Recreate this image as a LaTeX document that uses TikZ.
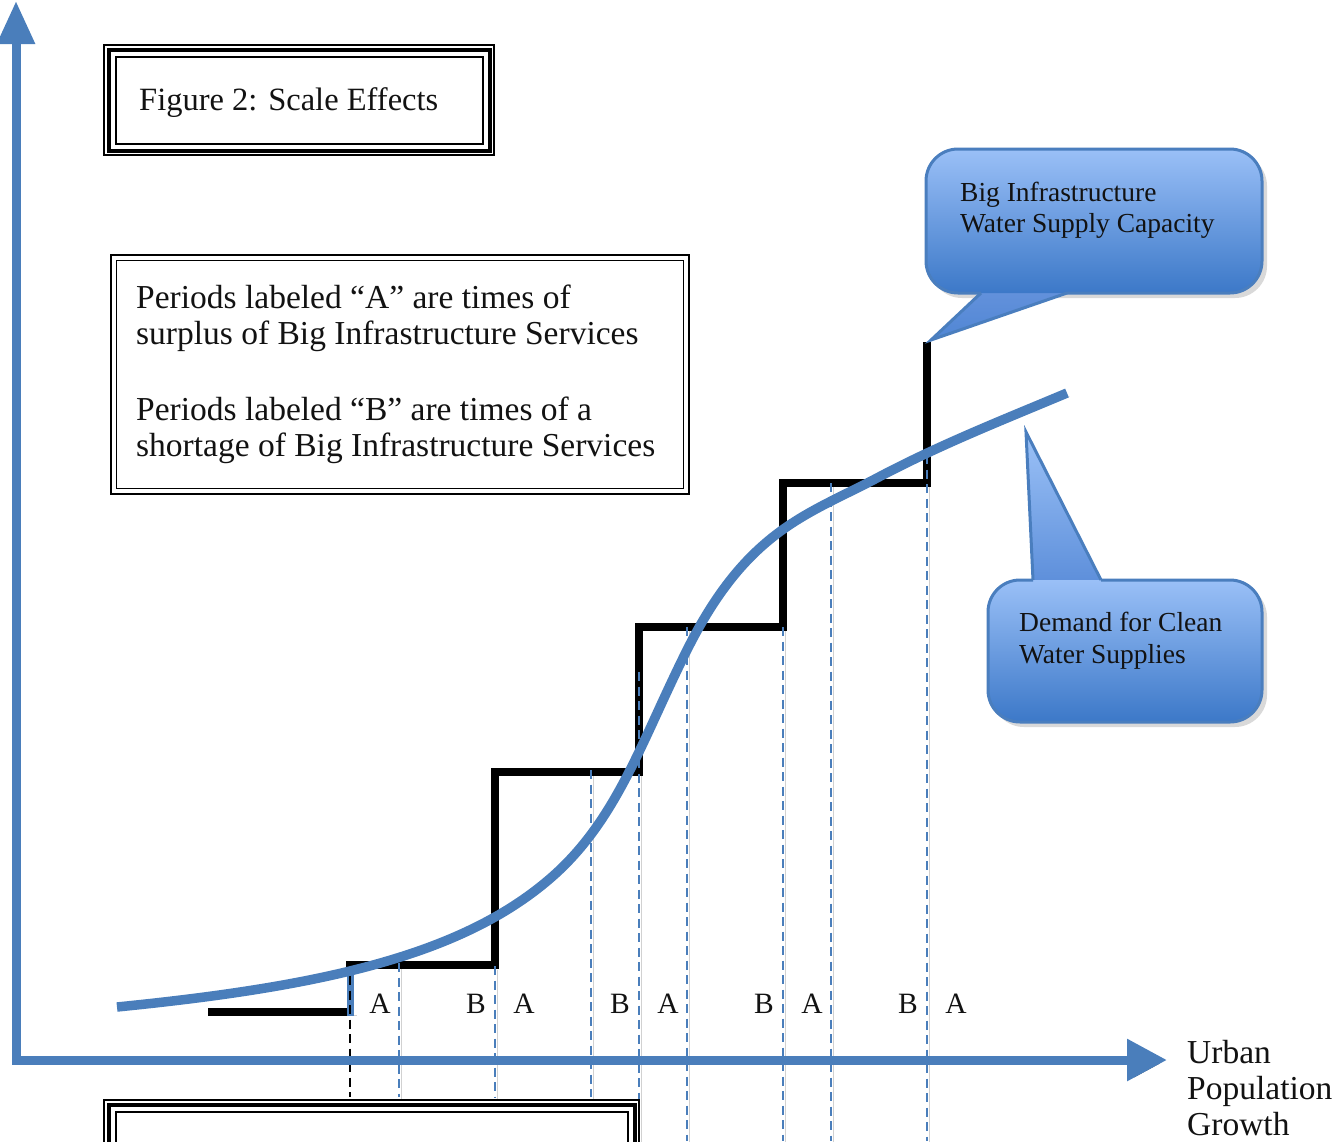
\documentclass[tikz,border=0pt]{standalone}
\usepackage{fontspec}
\setmainfont{Liberation Serif}
\usetikzlibrary{arrows.meta}
\definecolor{axisblue}{RGB}{74,126,187}
\definecolor{calltop}{RGB}{154,192,247}
\definecolor{callbot}{RGB}{60,120,200}
\definecolor{callbord}{RGB}{74,126,190}
\definecolor{tailAtop}{RGB}{100,146,220}
\definecolor{tailAbot}{RGB}{80,134,212}
\definecolor{tailBtop}{RGB}{156,194,247}
\definecolor{tailBbot}{RGB}{92,142,218}
\definecolor{txt}{RGB}{18,18,18}
\begin{document}
\begin{tikzpicture}[x=1pt,y=-1pt,
  shdw/.style={preaction={draw=black,draw opacity=0.18,transform canvas={shift={(2.5,3.5)}}}},
  stepline/.style={line width=8pt,black,line join=miter,shdw},
  guide/.style={axisblue,line width=2.8pt,dash pattern=on 9pt off 5.5pt,shdw},
  blkguide/.style={black,line width=2.6pt,dash pattern=on 9pt off 5.5pt},
  demand/.style={axisblue,line width=9.5pt,shdw},
  axisline/.style={axisblue,line width=9pt,line join=miter,shdw},
  lbl/.style={anchor=base,inner sep=0pt,text=txt,font=\fontsize{29.5}{34}\selectfont},
  bodytext/.style={anchor=base west,inner sep=0pt,text=txt,font=\fontsize{33.5}{37}\selectfont},
  calltext/.style={anchor=base west,inner sep=0pt,text=txt,font=\fontsize{27.5}{32}\selectfont},
  callborder/.style={callbord,line width=3pt},
]
\useasboundingbox (0,0) rectangle (1339,1141);

% ---------- step function (supply capacity) ----------
\draw[stepline] (208,1012) -- (354,1012);
\draw[stepline] (350,961) -- (350,975);
\draw[stepline] (346,965) -- (495,965) -- (495,772) -- (639,772) -- (639,627)
  -- (783,627) -- (783,483) -- (927,483) -- (927,342);
\draw[axisblue,line width=7pt] (350,975) -- (350,1016);

% ---------- dashed guide lines ----------
\draw[blkguide] (350,976) -- (350,1097);
\draw[guide] (399,963) -- (399,1097);
\draw[guide] (495,966) -- (495,1097);
\draw[guide] (591,770) -- (591,1097);
\draw[guide] (639,672) -- (639,1141);
\draw[guide] (687,627) -- (687,1141);
\draw[guide] (783,627) -- (783,1141);
\draw[guide] (831,483) -- (831,1141);
\draw[guide] (927,455) -- (927,1141);

% ---------- demand curve ----------
\draw[demand] (117,1007) .. controls (317,987) and (456,957) .. (546,882)
  .. controls (616,824) and (640,744) .. (687,650)
  .. controls (747,530) and (807,515) .. (877,478)
  .. controls (940,444.6) and (1003.7,419.6) .. (1067,393);

% ---------- axes ----------
\draw[axisline,{Triangle[length=43pt,width=36pt]}-{Triangle[length=40pt,width=40pt]}]
  (16,1) -- (16,1060) -- (1167,1060);

% ---------- period labels ----------
\node[lbl] (a1) at (380,1013) {A};
\node[lbl] (b1) at (476,1013) {B};
\node[lbl] (a2) at (524,1013) {A};
\node[lbl] (b2) at (620,1013) {B};
\node[lbl] (a3) at (668,1013) {A};
\node[lbl] (b3) at (764,1013) {B};
\node[lbl] (a4) at (812,1013) {A};
\node[lbl] (b4) at (908,1013) {B};
\node[lbl] (a5) at (956,1013) {A};

% ---------- title box ----------
\draw[line width=1.5pt] (104,45) rectangle (494,155);
\draw[line width=4pt] (108.5,49.5) rectangle (489.5,150.5);
\draw[line width=2pt] (115.5,56.5) rectangle (482.5,143.5);
\node[bodytext,font=\fontsize{32.5}{37}\selectfont] (title) at (139,110) {Figure 2: Scale Effects};

% ---------- explanation box ----------
\draw[line width=2.5pt] (111,255) rectangle (689,494);
\draw[line width=1.3pt] (116.5,260.5) rectangle (683.5,488.5);
\node[bodytext] (p1) at (136,308) {Periods labeled “A” are times of};
\node[bodytext] (p2) at (136,344) {surplus of Big Infrastructure Services};
\node[bodytext] (p3) at (136,420) {Periods labeled “B” are times of a};
\node[bodytext] (p4) at (136,456) {shortage of Big Infrastructure Services};

% ---------- bottom box (cut off) ----------
\draw[line width=1.5pt] (104,1100) rectangle (639,1170);
\draw[line width=4pt] (108.5,1104.5) rectangle (634.5,1170);
\draw[line width=2pt] (115.5,1111.5) rectangle (627.5,1170);

% ---------- x axis label ----------
\node[bodytext] (u1) at (1187,1063) {Urban};
\node[bodytext] (u2) at (1187,1099) {Population};
\node[bodytext] (u3) at (1187,1135) {Growth};

% ---------- callout: supply capacity ----------
\fill[black,opacity=0.15,rounded corners=32pt] (930,154) rectangle (1267,298);
\shade[top color=tailAtop,bottom color=tailAbot] (986.3,288) -- (931,340) -- (1081.5,288) -- cycle;
\shade[rounded corners=32pt,top color=calltop,bottom color=callbot] (926,149) rectangle (1262,293);
\draw[callborder,rounded corners=32pt] (1067,293) -- (1262,293) -- (1262,149) -- (926,149) -- (926,293) -- (981,293);
\draw[callborder,line join=miter] (981,293) -- (931,340) -- (1067,293);
\node[calltext] (c1a) at (960,201) {Big Infrastructure};
\node[calltext] (c1b) at (960,232) {Water Supply Capacity};

% ---------- callout: demand ----------
\fill[black,opacity=0.15,rounded corners=32pt] (992,585) rectangle (1267,727);
\shade[top color=tailBtop,bottom color=tailBbot] (1033.2,585) -- (1026,432) -- (1103.5,585) -- cycle;
\shade[rounded corners=32pt,top color=calltop,bottom color=callbot] (988,580) rectangle (1262,722);
\draw[callborder,rounded corners=32pt] (1101,580) -- (1262,580) -- (1262,722) -- (988,722) -- (988,580) -- (1033,580);
\draw[callborder,line join=miter] (1033,580) -- (1026,432) -- (1101,580);
\node[calltext] (c2a) at (1019,631) {Demand for Clean};
\node[calltext] (c2b) at (1019,663) {Water Supplies};
\end{tikzpicture}
\end{document}
